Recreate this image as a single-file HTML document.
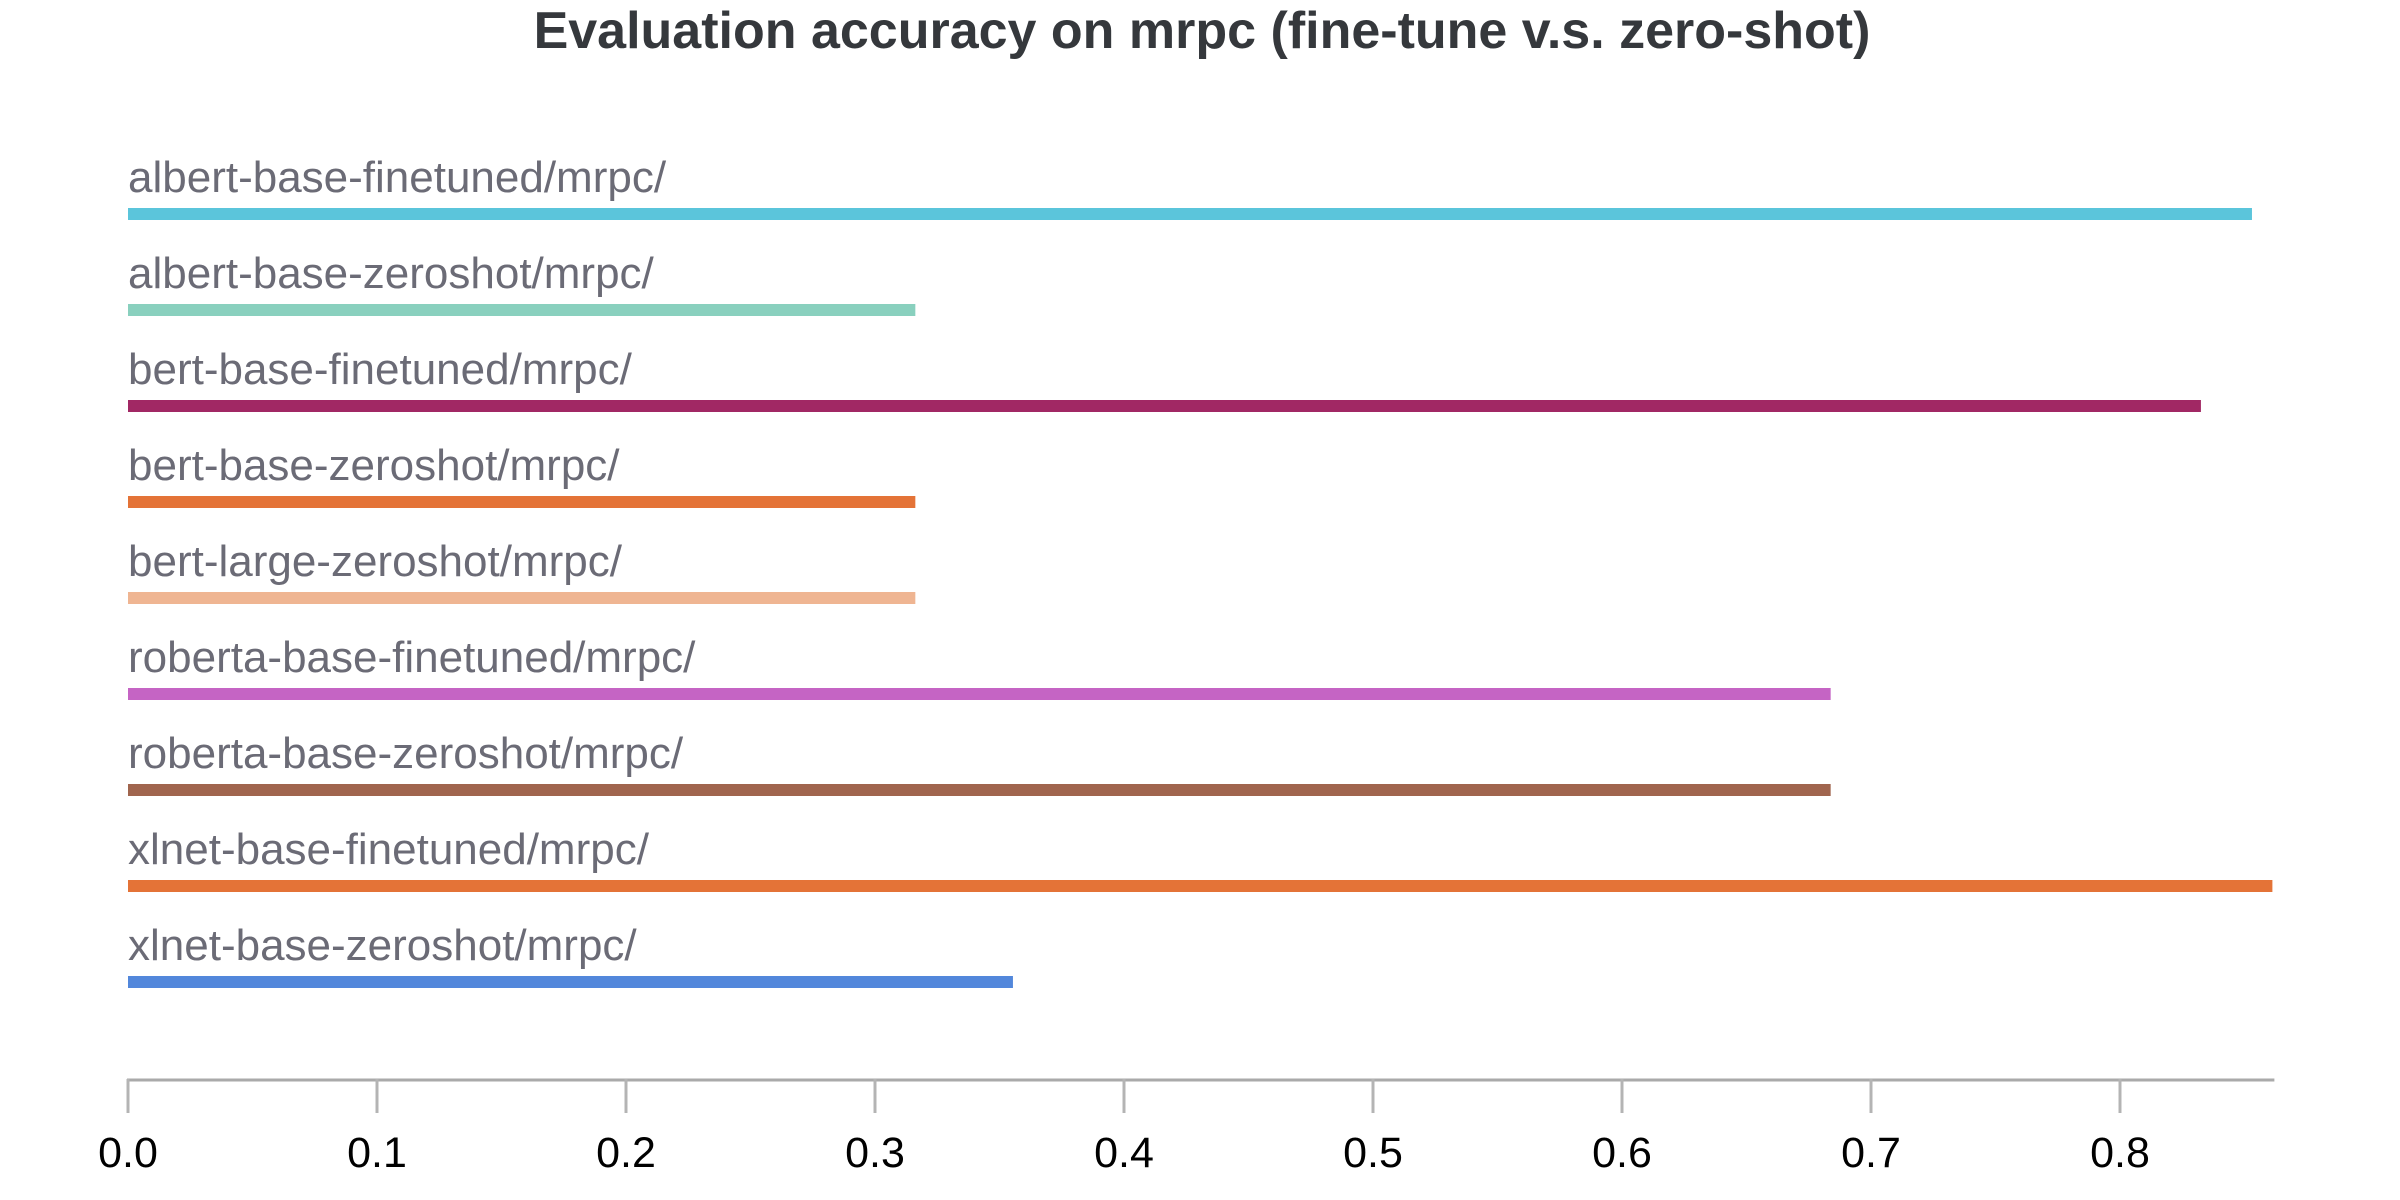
<!DOCTYPE html>
<html><head><meta charset="utf-8">
<style>
html,body{margin:0;padding:0;background:#fff;}
svg{display:block;}
</style></head>
<body>
<svg id="chart" width="2400" height="1200" viewBox="0 0 2400 1200" xmlns="http://www.w3.org/2000/svg">
<text x="1202" y="48" text-anchor="middle" font-family="Liberation Sans, sans-serif" font-weight="bold" font-size="52" fill="#35383c">Evaluation accuracy on mrpc (fine-tune v.s. zero-shot)</text>
<g id="bars"></g>
<g id="axis"></g>
</svg>
<script>
const categories = ["albert-base-finetuned/mrpc/","albert-base-zeroshot/mrpc/","bert-base-finetuned/mrpc/","bert-base-zeroshot/mrpc/","bert-large-zeroshot/mrpc/","roberta-base-finetuned/mrpc/","roberta-base-zeroshot/mrpc/","xlnet-base-finetuned/mrpc/","xlnet-base-zeroshot/mrpc/"];
const values = [0.853, 0.3162, 0.8325, 0.3162, 0.3162, 0.6838, 0.6838, 0.8612, 0.3554];
const colors = ["#5bc5db","#89d0be","#a12864","#e47337","#efb592","#c564c4","#a0654e","#e47337","#5287db"];
const tickValues = [0,0.1,0.2,0.3,0.4,0.5,0.6,0.7,0.8];
const tickLabels = ["0.0","0.1","0.2","0.3","0.4","0.5","0.6","0.7","0.8"];

const NS="http://www.w3.org/2000/svg";
const x0=128, unit=2490, top0=208, step=96, barH=12;
const xMax=Math.max(...values);
function xs(v){return x0+v*unit;}
function ys(i){return top0+i*step;}
const bars=document.getElementById('bars');
categories.forEach((c,i)=>{
  const t=document.createElementNS(NS,'text');
  
  
  t.setAttribute('x',x0);t.setAttribute('y',ys(i)-16);
  t.setAttribute('font-family','Liberation Sans, sans-serif');
  t.setAttribute('font-size','44');t.setAttribute('fill','#6b6b76');
  t.textContent=c;bars.appendChild(t);
  const r=document.createElementNS(NS,'rect');
  
  
  r.setAttribute('x',x0);r.setAttribute('y',ys(i));
  r.setAttribute('width',xs(values[i])-x0);r.setAttribute('height',barH);
  r.setAttribute('fill',colors[i]);bars.appendChild(r);
});
const axis=document.getElementById('axis');
const line=document.createElementNS(NS,'line');


line.setAttribute('x1',x0-1);line.setAttribute('x2',xs(xMax)+2);
line.setAttribute('y1',1080);line.setAttribute('y2',1080);
line.setAttribute('stroke','#aaaaaa');line.setAttribute('stroke-width','3');
axis.appendChild(line);
tickValues.forEach((v,i)=>{
  const tk=document.createElementNS(NS,'line');
  
  
  tk.setAttribute('x1',xs(v));tk.setAttribute('x2',xs(v));
  tk.setAttribute('y1',1079);tk.setAttribute('y2',1113);
  tk.setAttribute('stroke','#b4b4b4');tk.setAttribute('stroke-width','3');
  axis.appendChild(tk);
  const tl=document.createElementNS(NS,'text');
  
  
  tl.setAttribute('x',xs(v));tl.setAttribute('y',1167);
  tl.setAttribute('text-anchor','middle');
  tl.setAttribute('font-family','Liberation Sans, sans-serif');
  tl.setAttribute('font-size','43');tl.setAttribute('fill','#000');
  tl.textContent=tickLabels[i];axis.appendChild(tl);
});
</script>
</body></html>
